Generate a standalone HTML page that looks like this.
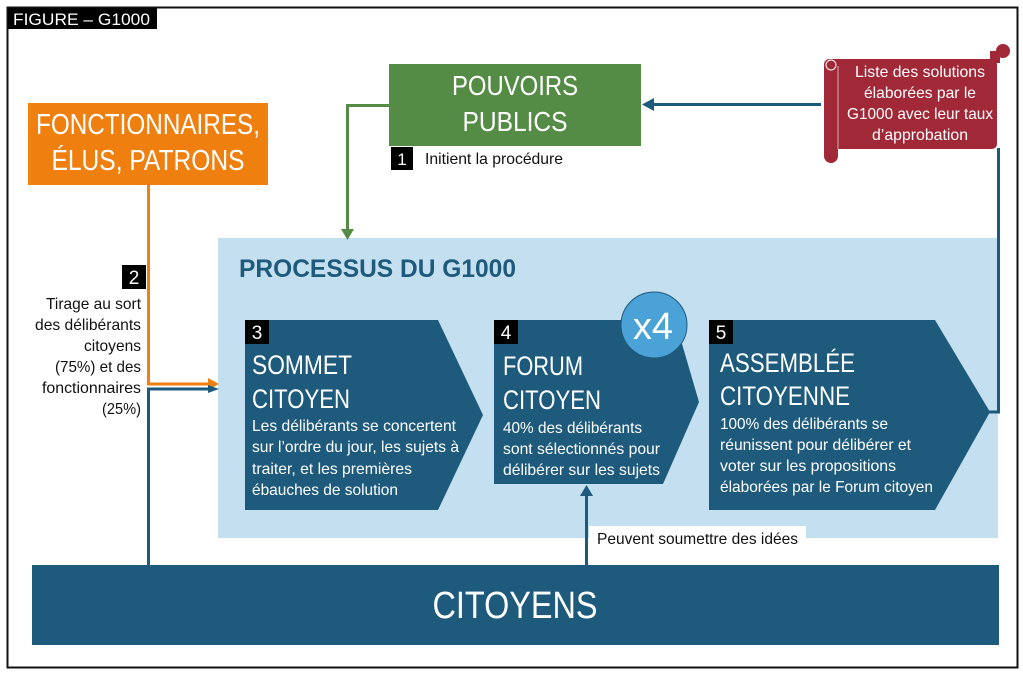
<!DOCTYPE html>
<html><head><meta charset="utf-8"><style>
body{margin:0;background:#fff}
svg text{font-family:"Liberation Sans Narrow","Liberation Sans",sans-serif}
</style></head><body>
<svg width="1023" height="671" viewBox="0 0 1023 671" xmlns="http://www.w3.org/2000/svg">
<rect x="7.5" y="7.5" width="1010" height="660" fill="#fff" stroke="#111" stroke-width="2"/>
<rect x="8" y="8" width="149" height="21" fill="#000"/>
<text x="13" y="25" fill="#fff" font-size="17" textLength="137" lengthAdjust="spacingAndGlyphs">FIGURE –  G1000</text>

<rect x="218" y="238" width="780" height="300" fill="#c3dff0"/>
<text x="239" y="277" fill="#1e5a7c" font-size="25" font-weight="bold" textLength="277" lengthAdjust="spacingAndGlyphs">PROCESSUS DU G1000</text>

<rect x="28" y="103" width="240" height="82" fill="#ef7f0e"/>
<text x="148" y="134" fill="#fff" font-size="29" text-anchor="middle" textLength="224" lengthAdjust="spacingAndGlyphs">FONCTIONNAIRES,</text>
<text x="148" y="170" fill="#fff" font-size="29" text-anchor="middle" textLength="193" lengthAdjust="spacingAndGlyphs">ÉLUS, PATRONS</text>
<path d="M148.5 185 V384 H210" fill="none" stroke="#ef7f0e" stroke-width="3"/>
<polygon points="208,378 219,384 208,390" fill="#ef7f0e"/>
<path d="M148.5 565 V389 H210" fill="none" stroke="#1e5a7c" stroke-width="3"/>
<polygon points="208,385 219,389 208,393" fill="#1e5a7c"/>
<rect x="122" y="265" width="24" height="24" fill="#000"/>
<text x="134" y="284" fill="#fff" font-size="19" text-anchor="middle">2</text>
<g fill="#111" font-size="16" text-anchor="end">
<text x="141" y="309" textLength="95" lengthAdjust="spacingAndGlyphs">Tirage au sort</text>
<text x="141" y="330" textLength="106" lengthAdjust="spacingAndGlyphs">des délibérants</text>
<text x="141" y="351" textLength="57" lengthAdjust="spacingAndGlyphs">citoyens</text>
<text x="141" y="372" textLength="86" lengthAdjust="spacingAndGlyphs">(75%) et des</text>
<text x="141" y="393" textLength="99" lengthAdjust="spacingAndGlyphs">fonctionnaires</text>
<text x="141" y="414" textLength="39" lengthAdjust="spacingAndGlyphs">(25%)</text>
</g>

<rect x="389" y="64" width="252" height="82" fill="#548b45"/>
<text x="515" y="95" fill="#fff" font-size="28" text-anchor="middle" textLength="126" lengthAdjust="spacingAndGlyphs">POUVOIRS</text>
<text x="515" y="131" fill="#fff" font-size="28" text-anchor="middle" textLength="105" lengthAdjust="spacingAndGlyphs">PUBLICS</text>
<path d="M389 105.5 H347.5 V232" fill="none" stroke="#548b45" stroke-width="3"/>
<polygon points="341,229 347.5,240 354,229" fill="#548b45"/>
<rect x="391" y="147" width="22" height="23" fill="#000"/>
<text x="402" y="165" fill="#fff" font-size="17" text-anchor="middle">1</text>
<text x="425" y="164" fill="#111" font-size="16" textLength="138" lengthAdjust="spacingAndGlyphs">Initient la procédure</text>

<path d="M821 104.5 H652" stroke="#1e5a7c" stroke-width="3"/>
<polygon points="654,98 642,104.5 654,111" fill="#1e5a7c"/>
<path d="M998.5 148 V412 H988" fill="none" stroke="#1e5a7c" stroke-width="3"/>
<rect x="824" y="59" width="173" height="90" rx="5" fill="#a12837"/>
<rect x="824" y="62" width="14" height="101" rx="7" fill="#a12837"/>
<circle cx="831" cy="65" r="5" fill="none" stroke="#fff" stroke-width="1"/>
<circle cx="1003" cy="51" r="7" fill="#a12837"/>
<rect x="990" y="51" width="10" height="12" fill="#a12837"/>
<path d="M838 66 V149" stroke="#fff" stroke-width="1" opacity=".6"/>
<g fill="#fff" font-size="16" text-anchor="middle">
<text x="920" y="77" textLength="130" lengthAdjust="spacingAndGlyphs">Liste des solutions</text>
<text x="920" y="98" textLength="112" lengthAdjust="spacingAndGlyphs">élaborées par le</text>
<text x="920" y="119" textLength="146" lengthAdjust="spacingAndGlyphs">G1000 avec leur taux</text>
<text x="920" y="140" textLength="96" lengthAdjust="spacingAndGlyphs">d’approbation</text>
</g>

<polygon points="245,320 438,320 483,415 438,510 245,510" fill="#1e5a7c"/>
<polygon points="494,320 675,320 699,402 663,484 494,484" fill="#1e5a7c"/>
<polygon points="709,320 935,320 990,412 935,510 709,510" fill="#1e5a7c"/>
<rect x="245" y="320" width="24" height="24" fill="#000"/>
<text x="257" y="339" fill="#fff" font-size="19" text-anchor="middle">3</text>
<rect x="494" y="320" width="24" height="24" fill="#000"/>
<text x="506" y="339" fill="#fff" font-size="19" text-anchor="middle">4</text>
<rect x="709" y="320" width="24" height="24" fill="#000"/>
<text x="721" y="339" fill="#fff" font-size="19" text-anchor="middle">5</text>
<circle cx="654" cy="325" r="33" fill="#4aa2d6" stroke="#1e5a7c" stroke-width="1"/>
<text x="653" y="339" fill="#fff" font-size="38" text-anchor="middle" textLength="40" lengthAdjust="spacingAndGlyphs">x4</text>

<g fill="#fff" font-size="27">
<text x="252" y="374" textLength="100" lengthAdjust="spacingAndGlyphs">SOMMET</text>
<text x="252" y="408" textLength="98" lengthAdjust="spacingAndGlyphs">CITOYEN</text>
<text x="503" y="375" textLength="80" lengthAdjust="spacingAndGlyphs">FORUM</text>
<text x="503" y="409" textLength="98" lengthAdjust="spacingAndGlyphs">CITOYEN</text>
<text x="720" y="372" textLength="135" lengthAdjust="spacingAndGlyphs">ASSEMBLÉE</text>
<text x="720" y="405" textLength="130" lengthAdjust="spacingAndGlyphs">CITOYENNE</text>
</g>
<g fill="#fff" font-size="16">
<text x="252" y="431" textLength="204" lengthAdjust="spacingAndGlyphs">Les délibérants se concertent</text>
<text x="252" y="452" textLength="207" lengthAdjust="spacingAndGlyphs">sur l’ordre du jour, les sujets à</text>
<text x="252" y="474" textLength="160" lengthAdjust="spacingAndGlyphs">traiter, et les premières</text>
<text x="252" y="495" textLength="146" lengthAdjust="spacingAndGlyphs">ébauches de solution</text>
<text x="503" y="433" textLength="139" lengthAdjust="spacingAndGlyphs">40% des délibérants</text>
<text x="503" y="454" textLength="157" lengthAdjust="spacingAndGlyphs">sont sélectionnés pour</text>
<text x="503" y="475" textLength="157" lengthAdjust="spacingAndGlyphs">délibérer sur les sujets</text>
<text x="720" y="429" textLength="168" lengthAdjust="spacingAndGlyphs">100% des délibérants se</text>
<text x="720" y="450" textLength="191" lengthAdjust="spacingAndGlyphs">réunissent pour délibérer et</text>
<text x="720" y="471" textLength="176" lengthAdjust="spacingAndGlyphs">voter sur les propositions</text>
<text x="720" y="492" textLength="213" lengthAdjust="spacingAndGlyphs">élaborées par le Forum citoyen</text>
</g>

<rect x="589" y="526" width="217" height="24" fill="#fff"/>
<text x="597" y="544" fill="#111" font-size="16" textLength="201" lengthAdjust="spacingAndGlyphs">Peuvent soumettre des idées</text>
<path d="M586.5 565 V494" stroke="#1e5a7c" stroke-width="3"/>
<polygon points="580,496 586.5,485 593,496" fill="#1e5a7c"/>
<rect x="32" y="565" width="967" height="80" fill="#1e5a7c"/>
<text x="515" y="618" fill="#fff" font-size="38" text-anchor="middle" textLength="165" lengthAdjust="spacingAndGlyphs">CITOYENS</text>
</svg>
</body></html>
